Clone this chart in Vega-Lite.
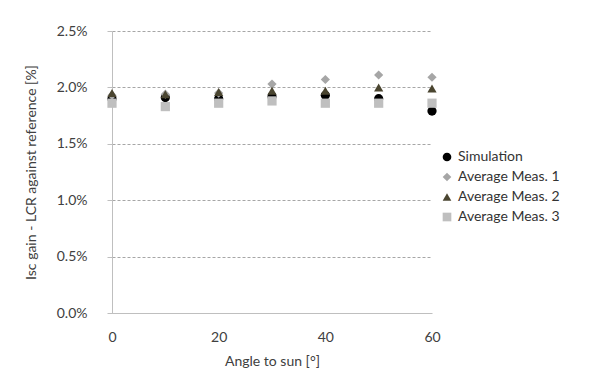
{
  "$schema": "https://vega.github.io/schema/vega-lite/v6.json",
  "width": 320,
  "height": 282,
  "autosize": {"type": "none"},
  "padding": {"left": 112, "top": 31, "right": 184, "bottom": 65},
  "background": "white",
  "config": {
    "font": "Lato",
    "view": {"stroke": null},
    "axis": {"labelFont": "Lato", "titleFont": "Lato", "labelColor": "#404040", "titleColor": "#404040", "labelFontSize": 14, "titleFontSize": 14, "titleFontWeight": "normal", "domainColor": "#BFBFBF", "tickColor": "#BFBFBF"},
    "legend": {"labelFont": "Lato", "labelFontSize": 14, "labelColor": "#333333"}
  },
  "data": {
    "values": [
      {"angle": 0, "series": "Simulation", "gain": 0.0190},
      {"angle": 10, "series": "Simulation", "gain": 0.0191},
      {"angle": 20, "series": "Simulation", "gain": 0.0190},
      {"angle": 30, "series": "Simulation", "gain": 0.0192},
      {"angle": 40, "series": "Simulation", "gain": 0.0193},
      {"angle": 50, "series": "Simulation", "gain": 0.0190},
      {"angle": 60, "series": "Simulation", "gain": 0.0179},
      {"angle": 0, "series": "Average Meas. 1", "gain": 0.0193},
      {"angle": 10, "series": "Average Meas. 1", "gain": 0.0194},
      {"angle": 20, "series": "Average Meas. 1", "gain": 0.0195},
      {"angle": 30, "series": "Average Meas. 1", "gain": 0.0203},
      {"angle": 40, "series": "Average Meas. 1", "gain": 0.0207},
      {"angle": 50, "series": "Average Meas. 1", "gain": 0.0211},
      {"angle": 60, "series": "Average Meas. 1", "gain": 0.0209},
      {"angle": 0, "series": "Average Meas. 2", "gain": 0.0195},
      {"angle": 10, "series": "Average Meas. 2", "gain": 0.0194},
      {"angle": 20, "series": "Average Meas. 2", "gain": 0.0196},
      {"angle": 30, "series": "Average Meas. 2", "gain": 0.0197},
      {"angle": 40, "series": "Average Meas. 2", "gain": 0.0197},
      {"angle": 50, "series": "Average Meas. 2", "gain": 0.0200},
      {"angle": 60, "series": "Average Meas. 2", "gain": 0.0199},
      {"angle": 0, "series": "Average Meas. 3", "gain": 0.0186},
      {"angle": 10, "series": "Average Meas. 3", "gain": 0.0183},
      {"angle": 20, "series": "Average Meas. 3", "gain": 0.0186},
      {"angle": 30, "series": "Average Meas. 3", "gain": 0.0188},
      {"angle": 40, "series": "Average Meas. 3", "gain": 0.0186},
      {"angle": 50, "series": "Average Meas. 3", "gain": 0.0186},
      {"angle": 60, "series": "Average Meas. 3", "gain": 0.0186}
    ]
  },
  "mark": {"type": "point", "filled": true, "opacity": 1, "size": 85},
  "encoding": {
    "x": {
      "field": "angle", "type": "quantitative",
      "scale": {"domain": [0, 60], "nice": false},
      "axis": {"values": [0, 20, 40, 60], "grid": false, "ticks": false, "labelFlush": false, "labelPadding": 17, "title": "Angle to sun [°]", "titlePadding": 10}
    },
    "y": {
      "field": "gain", "type": "quantitative",
      "scale": {"domain": [0, 0.025], "nice": false},
      "axis": {"values": [0, 0.005, 0.01, 0.015, 0.02, 0.025], "format": ".1%", "tickSize": 5, "labelFlush": false, "labelPadding": 20, "grid": true, "gridColor": "#A6A6A6", "gridDash": [3, 2], "title": "Isc gain - LCR against reference [%]", "titlePadding": 18}
    },
    "color": {
      "field": "series", "type": "nominal",
      "scale": {"domain": ["Simulation", "Average Meas. 1", "Average Meas. 2", "Average Meas. 3"], "range": ["#000000", "#A6A6A6", "#4A4530", "#BFBFBF"]},
      "legend": {"title": null, "orient": "none", "legendX": 328, "legendY": 119, "rowPadding": 6, "symbolSize": 75, "labelOffset": 4}
    },
    "shape": {
      "field": "series", "type": "nominal",
      "scale": {"domain": ["Simulation", "Average Meas. 1", "Average Meas. 2", "Average Meas. 3"], "range": ["circle", "diamond", "triangle-up", "square"]}
    }
  }
}
